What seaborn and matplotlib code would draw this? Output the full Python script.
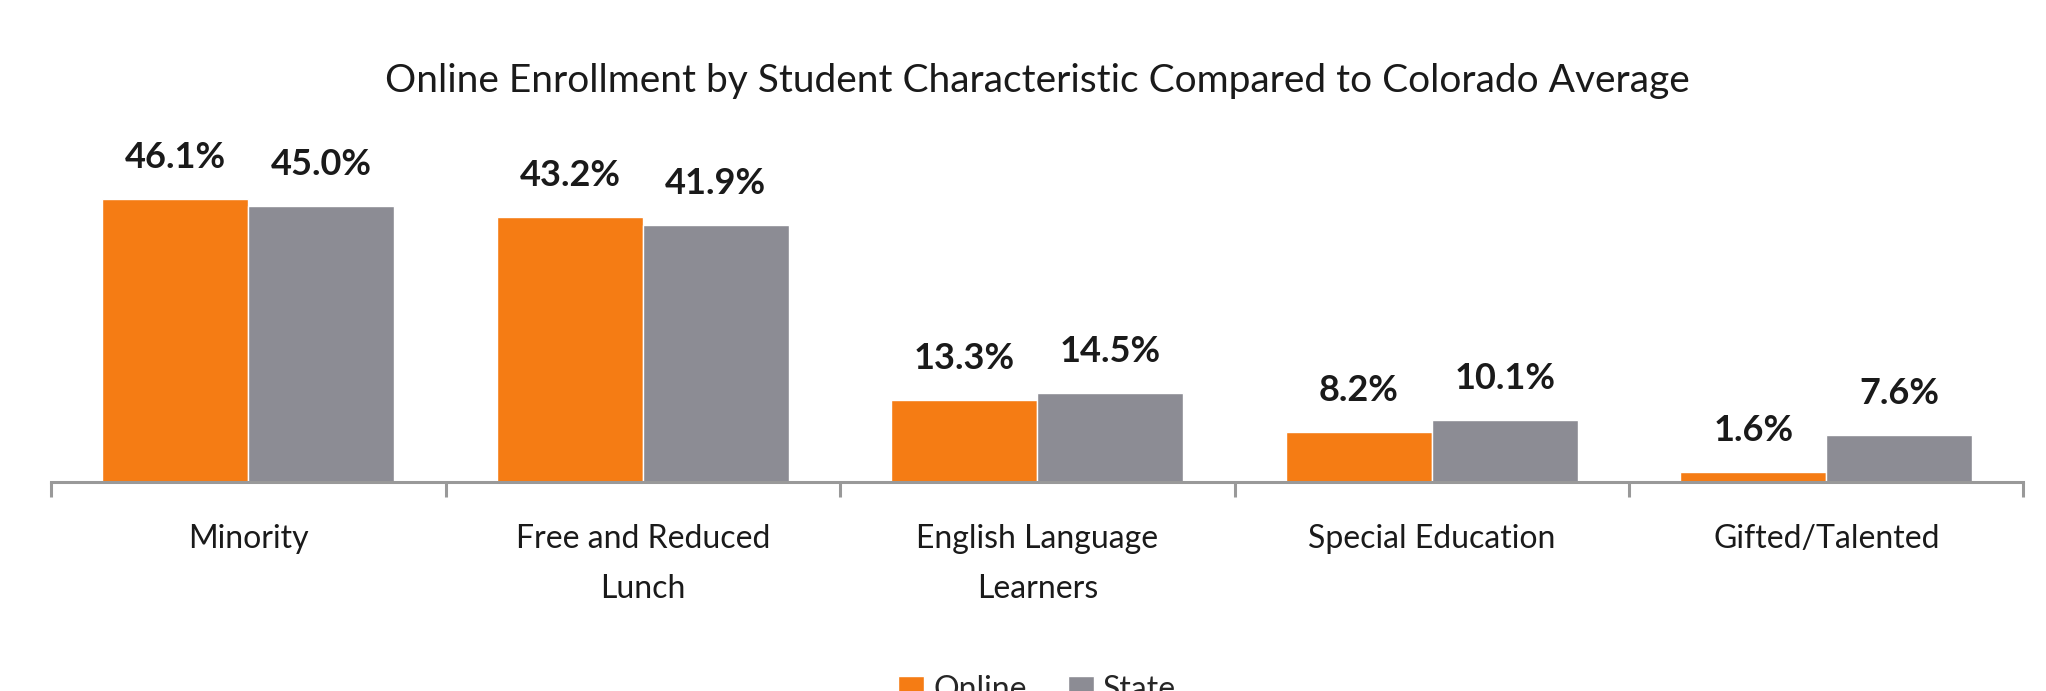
import pandas as pd
import matplotlib.pyplot as plt
import seaborn as sns
from matplotlib.ticker import FixedLocator

# Data
categories = ['Minority', 'Free and Reduced\nLunch', 'English Language\nLearners',
              'Special Education', 'Gifted/Talented']
online = [46.1, 43.2, 13.3, 8.2, 1.6]
state = [45.0, 41.9, 14.5, 10.1, 7.6]

df = pd.DataFrame({
    'Category': categories * 2,
    'Group': ['Online'] * 5 + ['State'] * 5,
    'Value': online + state,
})

sns.set_style('white')
plt.rcParams['font.family'] = ['Lato', 'DejaVu Sans']

fig = plt.figure(figsize=(20.46, 6.91), dpi=100)
ax = fig.add_axes([0.025, 0.3025, 0.964, 0.553])

sns.barplot(data=df, x='Category', y='Value', hue='Group',
            palette={'Online': '#F57C14', 'State': '#8C8C94'},
            width=0.74, gap=0, saturation=1, ax=ax)

# value labels
for cont in ax.containers:
    ax.bar_label(cont, labels=[f'{v:.1f}%' for v in cont.datavalues],
                 padding=18, fontsize=26, fontweight='bold', color='#1a1a1a')

ax.set_ylim(0, 62.2)
ax.set_xlim(-0.5, 4.5)
ax.set_xlabel('')
ax.set_ylabel('')
ax.set_yticks([])
for s in ['top', 'right', 'left']:
    ax.spines[s].set_visible(False)
ax.spines['bottom'].set_color('#999999')
ax.spines['bottom'].set_linewidth(2.2)

ax.xaxis.set_minor_locator(FixedLocator([i - 0.5 for i in range(6)]))
ax.tick_params(axis='x', which='minor', length=11, width=2.2, color='#999999', direction='out', bottom=True)
ax.tick_params(axis='x', which='major', length=0, pad=30, labelsize=23, labelcolor='#1a1a1a')
for lbl in ax.get_xticklabels():
    lbl.set_linespacing(1.85)
    lbl.set_verticalalignment('top')

ax.set_title('Online Enrollment by Student Characteristic Compared to Colorado Average',
             fontsize=28, color='#1a1a1a', pad=6)

sns.move_legend(ax, 'upper center', bbox_to_anchor=(0.5, -0.455), ncol=2, frameon=False,
                title=None, fontsize=23, handlelength=0.8, handleheight=0.8,
                handletextpad=0.3, columnspacing=1.3, borderpad=0.1)

plt.savefig('out.png', dpi=100)
